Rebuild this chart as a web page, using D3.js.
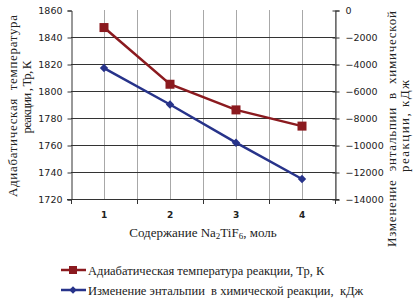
<!DOCTYPE html>
<html>
<head>
<meta charset="utf-8">
<script src="https://cdn.jsdelivr.net/npm/d3@7"></script>
<style>
  body { margin: 0; background: #fff; }
  svg text { fill: #222; }
  .tick text { font-family: "DejaVu Sans", Arial, sans-serif; font-size: 9.5px; }
  .serif { font-family: "Liberation Serif", "Times New Roman", serif; white-space: pre; }
</style>
</head>
<body>
<div id="chart"></div>
<script>
// Chart data
const categories = [1, 2, 3, 4];
const tempValues = [1847, 1805, 1786, 1774];
const enthalpyValues = [-4300, -7000, -9830, -12520];
const leftTicks = [1720, 1740, 1760, 1780, 1800, 1820, 1840, 1860];
const rightTicks = [-14000, -12000, -10000, -8000, -6000, -4000, -2000, 0];
const tempLabel = "Адиабатическая температура реакции, Тр, К";
const enthalpyLabel = "Изменение энтальпии  в химической реакции,  кДж";

const w = 416, h = 304;
const plotLeft = 71, plotRight = 335, plotTop = 10, plotBottom = 199;
const red = "#8b1a1f", blue = "#27338a";

let svg = d3.select("#chart").append("svg").attr("width", w).attr("height", h);

// Scales
let xBand = d3.scaleBand().domain(categories).range([plotLeft, plotRight]);
let xPos = (d) => xBand(d) + xBand.bandwidth() / 2;
let yLeft = d3.scaleLinear().domain([1720, 1860]).range([plotBottom, plotTop]);
let yRight = d3.scaleLinear().domain([-14000, 0]).range([plotBottom, plotTop]);

// Vertical gridlines (category centres and boundaries)
let vLines = [];
categories.forEach((c) => { vLines.push(xBand(c)); vLines.push(xPos(c)); });
vLines.push(plotRight);
svg.append("g").selectAll("line").data(vLines.slice(1)).join("line")
  .attr("x1", (d) => d + 0.5).attr("x2", (d) => d + 0.5).attr("y1", plotTop).attr("y2", plotBottom)
  .attr("stroke", "#a8a8a8").attr("stroke-width", 1);

// Horizontal gridlines
svg.append("g").selectAll("line").data(leftTicks.slice(0, -1)).join("line")
  .attr("x1", plotLeft).attr("x2", plotRight).attr("y1", (d) => yLeft(d) + 0.5).attr("y2", (d) => yLeft(d) + 0.5)
  .attr("stroke", "#333").attr("stroke-width", 1);

// Axes
let leftAxis = d3.axisLeft(yLeft).tickValues(leftTicks).tickFormat(d3.format("d")).tickSize(4).tickPadding(5);
let gL = svg.append("g").attr("transform", "translate(" + (plotLeft + 0.5) + ",0.5)").call(leftAxis);
gL.select(".domain").attr("stroke", "#333");
gL.selectAll(".tick line").attr("stroke", "#333");

let rightAxis = d3.axisRight(yRight).tickValues(rightTicks).tickFormat(d3.format("d")).tickSize(4).tickPadding(6);
let gR = svg.append("g").attr("transform", "translate(" + (plotRight + 0.5) + ",0.5)").call(rightAxis);
gR.select(".domain").attr("stroke", "#333");
gR.selectAll(".tick line").attr("stroke", "#333").attr("x1", -3);

let bottomAxis = d3.axisBottom(xBand).tickSize(0).tickPadding(12);
let gB = svg.append("g").attr("transform", "translate(0," + (plotBottom + 0.5) + ")").call(bottomAxis);
gB.select(".domain").attr("stroke", "#333").attr("d", "M" + (plotLeft - 4) + ",0H" + (plotRight + 4));
gB.selectAll(".tick text").style("font-weight", "bold").style("font-size", "9px");
// Boundary ticks
svg.append("g").selectAll("line").data(categories.map((c) => xBand(c)).concat([plotRight])).join("line")
  .attr("x1", (d) => d + 0.5).attr("x2", (d) => d + 0.5).attr("y1", plotBottom).attr("y2", plotBottom + 5)
  .attr("stroke", "#333");

// Lines
let tempLine = d3.line().x((d, i) => xPos(categories[i])).y((d) => yLeft(d));
let enthLine = d3.line().x((d, i) => xPos(categories[i])).y((d) => yRight(d));
svg.append("path").datum(tempValues).attr("d", tempLine).attr("fill", "none").attr("stroke", red).attr("stroke-width", 2.5);
svg.append("path").datum(enthalpyValues).attr("d", enthLine).attr("fill", "none").attr("stroke", blue).attr("stroke-width", 2.5);

// Markers
svg.append("g").selectAll("rect").data(tempValues).join("rect")
  .attr("x", (d, i) => xPos(categories[i]) - 4.5).attr("y", (d) => yLeft(d) - 4.5)
  .attr("width", 9).attr("height", 9).attr("fill", red);
let diamond = d3.symbol().type(d3.symbolDiamond2).size(45);
svg.append("g").selectAll("path").data(enthalpyValues).join("path")
  .attr("d", diamond).attr("fill", blue)
  .attr("transform", (d, i) => "translate(" + xPos(categories[i]) + "," + yRight(d) + ")");

// Axis titles
let xt = svg.append("text").attr("class", "serif").attr("x", 203).attr("y", 237)
  .attr("text-anchor", "middle").style("font-size", "13px");
xt.append("tspan").text("Содержание Na");
xt.append("tspan").text("2").style("font-size", "9px").attr("dy", 2);
xt.append("tspan").text("TiF").attr("dy", -2);
xt.append("tspan").text("6").style("font-size", "9px").attr("dy", 2);
xt.append("tspan").text(", моль").attr("dy", -2);

// Rotated titles, each line stretched to the width seen in the reference
function vTitle(text, x, y, len) {
  svg.append("text").attr("class", "serif").attr("transform", "translate(" + x + "," + y + ") rotate(-90)")
    .attr("text-anchor", "middle").style("font-size", "13px")
    .attr("textLength", len).attr("lengthAdjust", "spacing").text(text);
}
vTitle("Адиабатическая  температура", 17, 106, 182);
vTitle("реакции , Тр, К", 31, 97, 73);
vTitle("Изменение  энтальпии  в  химической", 396, 129, 236);
vTitle("реакции, кДж", 409, 126, 92);

// Legend
let legend = [
  { label: tempLabel, color: red, shape: "square", y: 270 },
  { label: enthalpyLabel, color: blue, shape: "diamond", y: 290 }
];
legend.forEach((l) => {
  svg.append("line").attr("x1", 61).attr("x2", 86).attr("y1", l.y).attr("y2", l.y)
    .attr("stroke", l.color).attr("stroke-width", 2.5);
  if (l.shape == "square") svg.append("rect").attr("x", 69).attr("y", l.y - 4).attr("width", 8).attr("height", 8).attr("fill", l.color);
  else svg.append("path").attr("d", d3.symbol().type(d3.symbolDiamond2).size(35)).attr("fill", l.color)
    .attr("transform", "translate(73," + l.y + ")");
  svg.append("text").attr("class", "serif").attr("x", 88).attr("y", l.y + 4.5)
    .style("font-size", "12.5px").text(l.label);
});
</script>
</body>
</html>
